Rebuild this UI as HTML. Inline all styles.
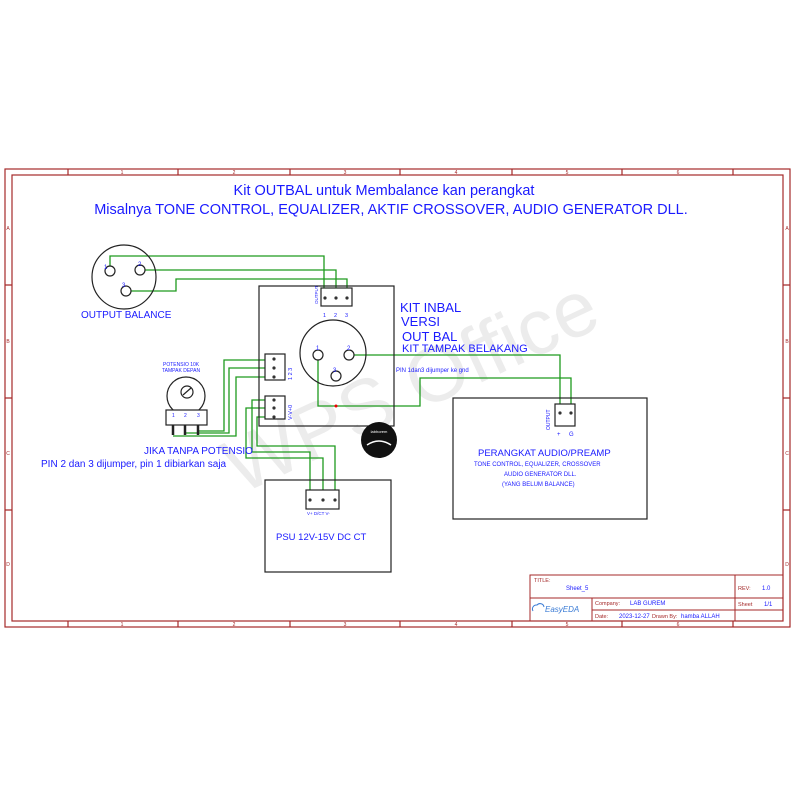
<!DOCTYPE html>
<html><head><meta charset="utf-8"><style>
html,body{margin:0;padding:0;background:#fff;}
svg{display:block;}
text{font-family:"Liberation Sans",sans-serif;}
</style></head><body>
<svg width="794" height="794" viewBox="0 0 794 794" xmlns="http://www.w3.org/2000/svg">
<rect width="794" height="794" fill="#fff"/>
<!-- watermark -->
<text x="0" y="0" transform="translate(240,495) rotate(-25)" font-size="78" fill="#ececec" font-family="Liberation Sans">WPS Office</text>
<!-- frame -->
<g stroke="#a52a2a" fill="none" stroke-width="1.2">
<rect x="5" y="169" width="785" height="458"/>
<rect x="12" y="175" width="771" height="446"/>
<path d="M68 169v6M178 169v6M290 169v6M400 169v6M512 169v6M622 169v6M733 169v6M68 621v6M178 621v6M290 621v6M400 621v6M512 621v6M622 621v6M733 621v6M5 285h7M5 398h7M5 510h7M783 285h7M783 398h7M783 510h7"/>
</g>
<g font-size="5" fill="#a52a2a" text-anchor="middle">
<text x="122" y="174">1</text><text x="234" y="174">2</text><text x="345" y="174">3</text><text x="456" y="174">4</text><text x="567" y="174">5</text><text x="678" y="174">6</text>
<text x="122" y="626">1</text><text x="234" y="626">2</text><text x="345" y="626">3</text><text x="456" y="626">4</text><text x="567" y="626">5</text><text x="678" y="626">6</text>
<text x="8" y="230">A</text><text x="8" y="343">B</text><text x="8" y="455">C</text><text x="8" y="566">D</text>
<text x="787" y="230">A</text><text x="787" y="343">B</text><text x="787" y="455">C</text><text x="787" y="566">D</text>
</g>
<!-- titles -->
<text x="384" y="195" font-size="14.5" fill="#1a1aff" text-anchor="middle">Kit OUTBAL untuk Membalance kan perangkat</text>
<text x="391" y="214" font-size="14.5" fill="#1a1aff" text-anchor="middle">Misalnya TONE CONTROL, EQUALIZER, AKTIF CROSSOVER, AUDIO GENERATOR DLL.</text>
<!-- wires -->
<g stroke="#1e9a1e" stroke-width="1.3" fill="none">
<path d="M110 271V256H324V298"/>
<path d="M145 270H336V298"/>
<path d="M131 291H176V279H347V298"/>
<path d="M318 356V406H420V378H571V413"/>
<path d="M353 355H560V413"/>
<path d="M198 431H224V360H274"/>
<path d="M185 433H229V368H274"/>
<path d="M173 436H236V377H274"/>
<path d="M274 400H252V452H310V500"/>
<path d="M274 408H246V458H323V500"/>
<path d="M274 417H257V446H335V500"/>
</g>
<circle cx="336" cy="406" r="1.5" fill="#e00"/>
<!-- black shapes -->
<g stroke="#222" stroke-width="1.2" fill="none">
<circle cx="124" cy="277" r="32"/>
<circle cx="110" cy="271" r="5" fill="#fff"/><circle cx="140" cy="270" r="5" fill="#fff"/><circle cx="126" cy="291" r="5" fill="#fff"/>
<rect x="259" y="286" width="135" height="140"/>
<rect x="321" y="288" width="31" height="18" fill="#fff"/>
<circle cx="333" cy="353" r="33"/>
<circle cx="318" cy="355" r="5" fill="#fff"/><circle cx="349" cy="355" r="5" fill="#fff"/><circle cx="336" cy="376" r="5" fill="#fff"/>
<rect x="265" y="354" width="20" height="26" fill="#fff"/>
<rect x="265" y="396" width="20" height="23" fill="#fff"/>
<rect x="453" y="398" width="194" height="121"/>
<rect x="555" y="404" width="20" height="22" fill="#fff"/>
<rect x="265" y="480" width="126" height="92"/>
<rect x="306" y="490" width="33" height="19" fill="#fff"/>
<circle cx="186" cy="396" r="19" fill="#fff"/>
<rect x="166" y="410" width="41" height="15" fill="#fff"/>
<circle cx="187" cy="392" r="6"/>
<path d="M183 395l8-7" />
<path d="M173 425v10M185 425v10M198 425v10" stroke-width="2.5"/>
</g>
<g fill="#333">
<circle cx="325" cy="298" r="1.6"/><circle cx="336" cy="298" r="1.6"/><circle cx="347" cy="298" r="1.6"/>
<circle cx="274" cy="359" r="1.6"/><circle cx="274" cy="368" r="1.6"/><circle cx="274" cy="377" r="1.6"/>
<circle cx="274" cy="400" r="1.6"/><circle cx="274" cy="408" r="1.6"/><circle cx="274" cy="417" r="1.6"/>
<circle cx="560" cy="413" r="1.6"/><circle cx="571" cy="413" r="1.6"/>
<circle cx="310" cy="500" r="1.6"/><circle cx="323" cy="500" r="1.6"/><circle cx="335" cy="500" r="1.6"/>
</g>
<circle cx="379" cy="440" r="18" fill="#111"/>
<text x="379" y="433" font-size="4" fill="#fff" text-anchor="middle">labhorem</text>
<path d="M367 445q12-8 24 0" stroke="#fff" stroke-width="1.5" fill="none"/>
<!-- blue labels -->
<g fill="#1a1aff">
<text x="104" y="269" font-size="6">1</text><text x="138" y="266" font-size="6">2</text><text x="122" y="287" font-size="6">3</text>
<text x="81" y="318" font-size="10">OUTPUT BALANCE</text>
<text x="0" y="0" font-size="4.5" transform="translate(318,304) rotate(-90)">OUTPUT</text>
<text x="323" y="317" font-size="5.5">1</text><text x="334" y="317" font-size="5.5">2</text><text x="345" y="317" font-size="5.5">3</text>
<text x="400" y="312" font-size="13">KIT INBAL</text>
<text x="401" y="326" font-size="13">VERSI</text>
<text x="402" y="341" font-size="13">OUT BAL</text>
<text x="402" y="352" font-size="11">KIT TAMPAK BELAKANG</text>
<text x="396" y="372" font-size="6">PIN 1dan3 dijumper ke gnd</text>
<text x="316" y="350" font-size="6">1</text><text x="347" y="350" font-size="6">2</text><text x="333" y="372" font-size="6">3</text>
<text x="0" y="0" font-size="5.5" transform="translate(292,380) rotate(-90)">1  2  3</text>
<text x="0" y="0" font-size="5.5" transform="translate(292,420) rotate(-90)">V-V+0</text>
<text x="163" y="366" font-size="5">POTENSIO 10K</text>
<text x="162" y="372" font-size="5">TAMPAK DEPAN</text>
<text x="172" y="417" font-size="5">1</text><text x="184" y="417" font-size="5">2</text><text x="197" y="417" font-size="5">3</text>
<text x="144" y="454" font-size="10">JIKA TANPA POTENSIO</text>
<text x="41" y="467" font-size="10">PIN 2 dan 3 dijumper, pin 1 dibiarkan saja</text>
<text x="0" y="0" font-size="5" transform="translate(550,430) rotate(-90)">OUTPUT</text>
<text x="557" y="436" font-size="6">+</text><text x="569" y="436" font-size="6">G</text>
<text x="478" y="456" font-size="9.5">PERANGKAT AUDIO/PREAMP</text>
<text x="474" y="466" font-size="6">TONE CONTROL, EQUALIZER, CROSSOVER</text>
<text x="504" y="476" font-size="6">AUDIO GENERATOR DLL.</text>
<text x="502" y="486" font-size="6">(YANG BELUM BALANCE)</text>
<text x="307" y="515" font-size="4.5">V+ D/CT V-</text>
<text x="276" y="540" font-size="9.5">PSU 12V-15V DC CT</text>
</g>
<!-- title block -->
<g stroke="#a52a2a" fill="none" stroke-width="1">
<rect x="530" y="575" width="253" height="46"/>
<path d="M530 598H783M592 598V621M592 610H783M735 575V621"/>
</g>
<g font-size="5.5" fill="#a52a2a">
<text x="534" y="582">TITLE:</text>
<text x="738" y="590">REV:</text>
<text x="738" y="606">Sheet</text>
<text x="595" y="605">Company:</text>
<text x="595" y="618">Date:</text>
<text x="652" y="618">Drawn By:</text>
</g>
<g font-size="6" fill="#1a1aff">
<text x="566" y="590">Sheet_5</text>
<text x="762" y="590">1.0</text>
<text x="764" y="606">1/1</text>
<text x="630" y="605">LAB GUREM</text>
<text x="619" y="618">2023-12-27</text>
<text x="681" y="618">hamba ALLAH</text>
</g>
<text x="545" y="612" font-size="8" fill="#3a7bd5" font-style="italic">EasyEDA</text>
<path d="M533 611a4 4 0 0 1 4-6a4 4 0 0 1 7 2" stroke="#3a7bd5" fill="none"/>
</svg>
</body></html>
